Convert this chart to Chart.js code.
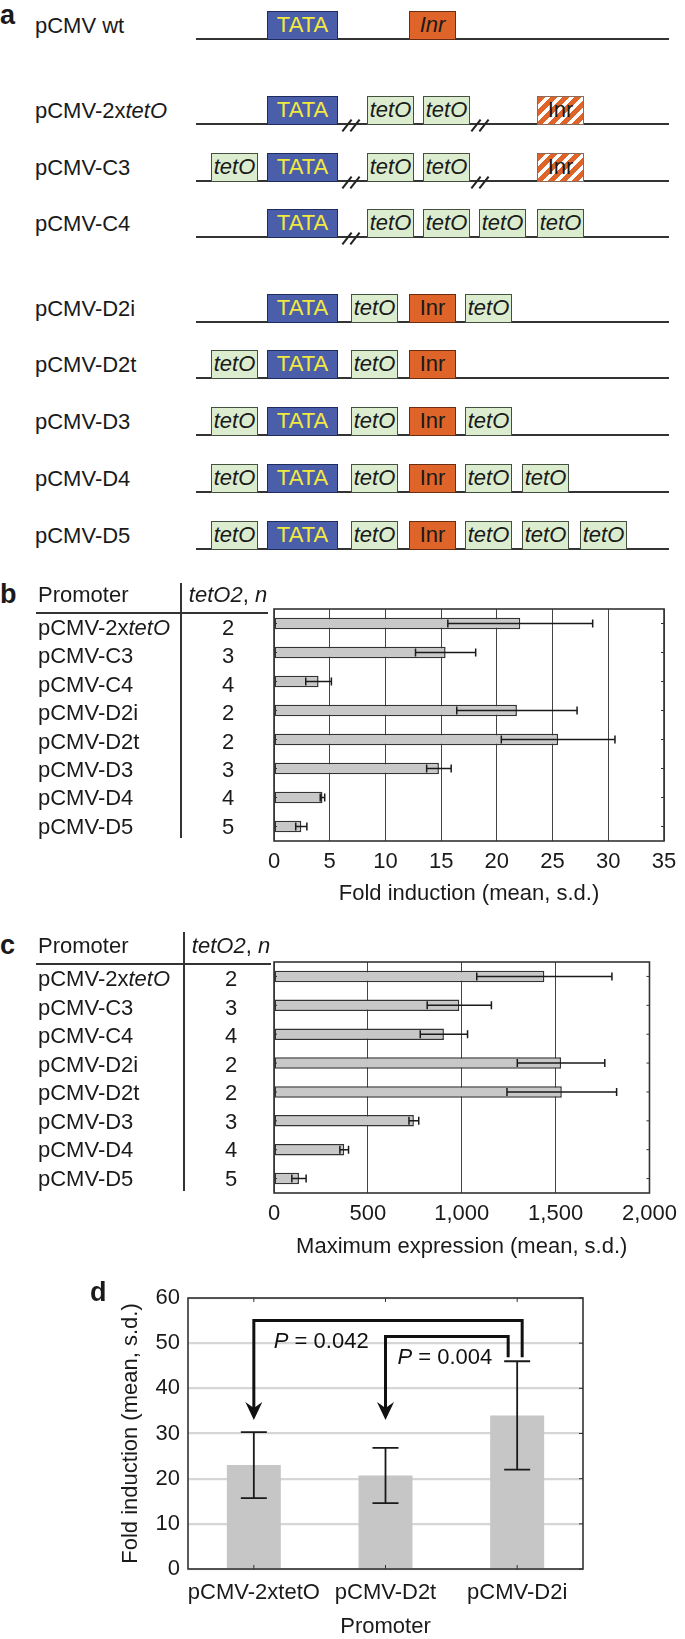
<!DOCTYPE html>
<html>
<head>
<meta charset="utf-8">
<title>tetO promoter variants</title>
<script src="https://cdn.jsdelivr.net/npm/chart.js@4.4.1/dist/chart.umd.min.js"></script>
<style>
  body { margin: 0; width: 685px; height: 1639px; position: relative; overflow: hidden; background: #fff;
         font-family: "Liberation Sans", Arial, Helvetica, sans-serif; color: #1a1a1a; }
  .txt { position: absolute; white-space: nowrap; font-size: 22px; line-height: 26px; height: 26px; }
  .panel { font-weight: bold; font-size: 27px; }
  .dna { position: absolute; height: 2px; background: #333; }
  .box { position: absolute; box-sizing: border-box; height: 29px; font-size: 22px; line-height: 26px;
         text-align: center; border: 1.5px solid #333; overflow: hidden; }
  .tata { background: #4a5ea9; border-color: #1f2b5c; color: #f3e93e; }
  .teto { background: #dcedcf; border-color: #44503f; font-style: italic; }
  .inr { background: #df6429; border-color: #6b2d12; }
  .inrI { background: #df6429; border-color: #6b2d12; font-style: italic; }
  .inrH { background: repeating-linear-gradient(135deg, #df6429 0 5px, #fff 5px 8.5px); border-color: #8a6a5a; }
  .slash { position: absolute; width: 1.8px; height: 15px; background: #222; transform: rotate(38deg); }
  .rule { position: absolute; background: #333; }
  canvas { position: absolute; }
</style>
</head>
<body>
<canvas id="chartB" width="435" height="330" style="left:250px;top:590px"></canvas>
<canvas id="chartC" width="435" height="330" style="left:250px;top:940px"></canvas>
<canvas id="chartD" width="500" height="370" style="left:100px;top:1270px"></canvas>
<script>
'use strict'

// ---- data ----
let promoters = ['pCMV-2xtetO', 'pCMV-C3', 'pCMV-C4', 'pCMV-D2i',
    'pCMV-D2t', 'pCMV-D3', 'pCMV-D4', 'pCMV-D5'];
let tetoCopies = [2, 3, 4, 2, 2, 3, 4, 5];

let foldMean = [22.1, 15.4, 4.0, 21.8, 25.5, 14.8, 4.35, 2.45];
let foldSd = [6.5, 2.7, 1.15, 5.4, 5.1, 1.1, 0.2, 0.5];
let foldTicks = [0, 5, 10, 15, 20, 25, 30, 35];

let exprMean = [1440, 987, 905, 1529, 1533, 745, 374, 133];
let exprSd = [360, 171, 126, 233, 292, 26, 23, 38];
let exprTicks = [0, 500, 1000, 1500, 2000];

let dNames = ['pCMV-2xtetO', 'pCMV-D2t', 'pCMV-D2i'];
let dMean = [23.0, 20.7, 34.0];
let dSd = [7.3, 6.1, 12.0];
let dTicks = [0, 10, 20, 30, 40, 50, 60];
let pValues = ['0.042', '0.004'];
let pFrom = [2, 2];
let pTo = [0, 1];

// panel a constructs: [element, slot]
let constructs = [
    ['pCMV wt', [['TATA', 'tata'], ['InrI', 'inr']]],
    ['pCMV-2xtetO', [['TATA', 'tata'], ['//', 'br1'], ['tetO', 'c1'], ['tetO', 'c2'], ['//', 'br2'], ['InrH', 'c4']]],
    ['pCMV-C3', [['tetO', 'up'], ['TATA', 'tata'], ['//', 'br1'], ['tetO', 'c1'], ['tetO', 'c2'], ['//', 'br2'], ['InrH', 'c4']]],
    ['pCMV-C4', [['TATA', 'tata'], ['//', 'br1'], ['tetO', 'c1'], ['tetO', 'c2'], ['tetO', 'c3'], ['tetO', 'c4']]],
    ['pCMV-D2i', [['TATA', 'tata'], ['tetO', 'd1'], ['Inr', 'inr'], ['tetO', 'd2']]],
    ['pCMV-D2t', [['tetO', 'up'], ['TATA', 'tata'], ['tetO', 'd1'], ['Inr', 'inr']]],
    ['pCMV-D3', [['tetO', 'up'], ['TATA', 'tata'], ['tetO', 'd1'], ['Inr', 'inr'], ['tetO', 'd2']]],
    ['pCMV-D4', [['tetO', 'up'], ['TATA', 'tata'], ['tetO', 'd1'], ['Inr', 'inr'], ['tetO', 'd2'], ['tetO', 'd3']]],
    ['pCMV-D5', [['tetO', 'up'], ['TATA', 'tata'], ['tetO', 'd1'], ['Inr', 'inr'], ['tetO', 'd2'], ['tetO', 'd3'], ['tetO', 'd4']]]
];

// ---- layout helpers ----
let slotX = { up: 211, tata: 267, br1: 350, c1: 367, c2: 423, br2: 479, c3: 479, c4: 537,
    d1: 351, inr: 409, d2: 465, d3: 522, d4: 580 };
let rowLine = [39, 124, 181, 237, 322, 378, 435, 492, 549];

function addText(html, x, cy, cls, center) {
    let d = document.createElement('div');
    d.className = 'txt ' + (cls || '');
    d.innerHTML = html;
    d.style.top = (cy - 13) + 'px';
    if (center) {
        d.style.left = (x - 100) + 'px';
        d.style.width = '200px';
        d.style.textAlign = 'center';
    } else {
        d.style.left = x + 'px';
    }
    document.body.appendChild(d);
}

function addRule(x, y, w, h) {
    let d = document.createElement('div');
    d.className = 'rule';
    d.style.left = x + 'px';
    d.style.top = y + 'px';
    d.style.width = w + 'px';
    d.style.height = h + 'px';
    document.body.appendChild(d);
}

function italicTet(name) {
    return name.replace('tetO', '<i>tetO</i>');
}

// ---- panel a ----
addText('a', 0, 15, 'panel');
for (let i = 0; i < constructs.length; i++) {
    let y = rowLine[i];
    addText(italicTet(constructs[i][0]), 35, y - 13);
    let line = document.createElement('div');
    line.className = 'dna';
    line.style.left = '196px';
    line.style.width = '473px';
    line.style.top = (y - 1) + 'px';
    document.body.appendChild(line);

    constructs[i][1].forEach(function (part) {
        let kind = part[0];
        let x = slotX[part[1]];
        if (kind === '//') {
            [-4, 4].forEach(function (dx) {
                let s = document.createElement('div');
                s.className = 'slash';
                s.style.left = (x + dx) + 'px';
                s.style.top = (y - 6) + 'px';
                document.body.appendChild(s);
            });
            return;
        }
        let b = document.createElement('div');
        let cls = { TATA: 'tata', tetO: 'teto', Inr: 'inr', InrI: 'inrI', InrH: 'inrH' }[kind];
        b.className = 'box ' + cls;
        b.textContent = kind === 'TATA' ? 'TATA' : (kind === 'tetO' ? 'tetO' : 'Inr');
        b.style.left = x + 'px';
        b.style.width = (kind === 'TATA' ? 71 : 47) + 'px';
        b.style.top = (y - 28) + 'px';
        document.body.appendChild(b);
    });
}

// ---- tables for b and c ----
function drawTable(letter, headY, ruleY, sepX, sepTop, sepBottom, rowY, rowStep, ruleEnd) {
    addText(letter, 0, headY - 1, 'panel');
    addText('Promoter', 38, headY);
    addText('<i>tetO2</i>, <i>n</i>', sepX + 48, headY, '', true);
    addRule(36, ruleY, ruleEnd - 36, 1.5);
    addRule(sepX, sepTop, 1.5, sepBottom - sepTop);
    for (let i = 0; i < promoters.length; i++) {
        addText(italicTet(promoters[i]), 38, rowY + rowStep * i);
        addText(String(tetoCopies[i]), sepX + 48, rowY + rowStep * i, '', true);
    }
}
drawTable('b', 595, 612, 180, 583, 838, 628, 28.4, 268);
drawTable('c', 946, 963, 183, 932, 1191, 979, 28.5, 271);
addText('d', 90, 1292, 'panel');

// ---- Chart.js plugins ----
let errorBars = {
    id: 'errorBars',
    afterDatasetsDraw(chart, args, opts) {
        let ctx = chart.ctx;
        let horiz = chart.options.indexAxis === 'y';
        let vScale = horiz ? chart.scales.x : chart.scales.y;
        let data = chart.data.datasets[0].data;
        ctx.save();
        ctx.strokeStyle = '#1a1a1a';
        ctx.lineWidth = opts.width;
        chart.getDatasetMeta(0).data.forEach(function (bar, i) {
            let lo = vScale.getPixelForValue(data[i] - opts.sd[i]);
            let hi = vScale.getPixelForValue(data[i] + opts.sd[i]);
            let c = horiz ? bar.y : bar.x;
            let h = opts.cap / 2;
            ctx.beginPath();
            if (horiz) {
                ctx.moveTo(lo, c); ctx.lineTo(hi, c);
                ctx.moveTo(lo, c - h); ctx.lineTo(lo, c + h);
                ctx.moveTo(hi, c - h); ctx.lineTo(hi, c + h);
            } else {
                ctx.moveTo(c, lo); ctx.lineTo(c, hi);
                ctx.moveTo(c - h, lo); ctx.lineTo(c + h, lo);
                ctx.moveTo(c - h, hi); ctx.lineTo(c + h, hi);
            }
            ctx.stroke();
        });
        ctx.restore();
    }
};

let frame = {
    id: 'frame',
    afterDatasetsDraw(chart) {
        let ctx = chart.ctx;
        let a = chart.chartArea;
        ctx.save();
        ctx.strokeStyle = '#333';
        ctx.lineWidth = 1;
        ctx.beginPath();
        if (chart.options.indexAxis === 'y') {
            let cat = chart.scales.y;
            for (let i = 0; i < chart.data.labels.length; i++) {
                let y = cat.getPixelForValue(i);
                ctx.moveTo(a.left, y); ctx.lineTo(a.left + 3, y);
                ctx.moveTo(a.right - 3, y); ctx.lineTo(a.right, y);
            }
        } else {
            let cat = chart.scales.x;
            for (let i = 0; i < chart.data.labels.length; i++) {
                let x = cat.getPixelForValue(i);
                ctx.moveTo(x, a.top); ctx.lineTo(x, a.top + 4);
                ctx.moveTo(x, a.bottom); ctx.lineTo(x, a.bottom - 4);
            }
            chart.scales.y.ticks.forEach(function (t) {
                let y = chart.scales.y.getPixelForValue(t.value);
                ctx.moveTo(a.right, y); ctx.lineTo(a.right - 4, y);
            });
        }
        ctx.stroke();
        ctx.lineWidth = 1.6;
        ctx.strokeRect(a.left, a.top, a.right - a.left, a.bottom - a.top);
        ctx.restore();
    }
};

let brackets = {
    id: 'brackets',
    afterDatasetsDraw(chart) {
        let ctx = chart.ctx;
        let xs = chart.scales.x, ys = chart.scales.y;
        let topVal = [55, 51.5];
        let endVal = [46.9, 46.9];
        let endDx = [5, -9];
        let tipVal = 33;
        let textDx = [20, 12];
        let textVal = [50.2, 46.7];
        ctx.save();
        ctx.strokeStyle = '#111';
        ctx.fillStyle = '#111';
        ctx.lineWidth = 3;
        ctx.lineJoin = 'miter';
        for (let i = 0; i < pValues.length; i++) {
            let xEnd = xs.getPixelForValue(pFrom[i]) + endDx[i];
            let xTip = xs.getPixelForValue(pTo[i]);
            let yTop = ys.getPixelForValue(topVal[i]);
            let yTip = ys.getPixelForValue(tipVal);
            ctx.beginPath();
            ctx.moveTo(xEnd, ys.getPixelForValue(endVal[i]));
            ctx.lineTo(xEnd, yTop);
            ctx.lineTo(xTip, yTop);
            ctx.lineTo(xTip, yTip - 10);
            ctx.stroke();
            ctx.beginPath();
            ctx.moveTo(xTip, yTip);
            ctx.lineTo(xTip - 8.5, yTip - 18);
            ctx.lineTo(xTip, yTip - 12);
            ctx.lineTo(xTip + 8.5, yTip - 18);
            ctx.closePath();
            ctx.fill();

            let tx = xTip + textDx[i];
            let ty = ys.getPixelForValue(textVal[i]);
            ctx.textBaseline = 'middle';
            ctx.font = 'italic 22px "Liberation Sans", Arial, sans-serif';
            ctx.fillText('P', tx, ty);
            let w = ctx.measureText('P').width;
            ctx.font = '22px "Liberation Sans", Arial, sans-serif';
            ctx.fillText(' = ' + pValues[i], tx + w, ty);
        }
        ctx.restore();
    }
};

Chart.defaults.font.family = '"Liberation Sans", Arial, sans-serif';
Chart.defaults.font.size = 22;
Chart.defaults.color = '#1a1a1a';

function hBarChart(id, labels, mean, sd, ticks, title, pad, axisH, titlePad) {
    return new Chart(document.getElementById(id), {
        type: 'bar',
        data: {
            labels: labels,
            datasets: [{
                data: mean,
                backgroundColor: '#c8c8c8',
                borderColor: '#333',
                borderWidth: 1.5,
                borderSkipped: false,
                barPercentage: 0.4,
                categoryPercentage: 1
            }]
        },
        options: {
            indexAxis: 'y',
            responsive: false,
            animation: false,
            devicePixelRatio: 1,
            layout: { padding: pad },
            scales: {
                x: {
                    min: ticks[0],
                    max: ticks[ticks.length - 1],
                    ticks: { stepSize: ticks[1] - ticks[0], padding: 8, color: '#1a1a1a' },
                    grid: { color: '#444', lineWidth: 1, drawTicks: false },
                    border: { display: false },
                    title: { display: true, text: title, color: '#1a1a1a', padding: { top: 0, bottom: titlePad } },
                    afterFit: function (s) { s.height = axisH; }
                },
                y: { display: false }
            },
            plugins: {
                legend: { display: false },
                tooltip: { enabled: false },
                errorBars: { sd: sd, cap: 8, width: 1.5 }
            }
        },
        plugins: [errorBars, frame]
    });
}

hBarChart('chartB', promoters, foldMean, foldSd, foldTicks, 'Fold induction (mean, s.d.)',
    { left: 24, right: 21, top: 19, bottom: 0 }, 79, 13);
hBarChart('chartC', promoters, exprMean, exprSd, exprTicks, 'Maximum expression (mean, s.d.)',
    { left: 24, right: 30, top: 22, bottom: 0 }, 77, 10);

new Chart(document.getElementById('chartD'), {
    type: 'bar',
    data: {
        labels: dNames,
        datasets: [{
            data: dMean,
            backgroundColor: '#c6c6c6',
            borderWidth: 0,
            barPercentage: 0.41,
            categoryPercentage: 1
        }]
    },
    options: {
        responsive: false,
        animation: false,
        devicePixelRatio: 1,
        layout: { padding: { left: 0, right: 17, top: 28, bottom: 0 } },
        scales: {
            x: {
                ticks: { padding: 11, maxRotation: 0, minRotation: 0, autoSkip: false, color: '#1a1a1a' },
                grid: { display: false, drawTicks: false },
                border: { display: false },
                title: { display: true, text: 'Promoter', color: '#1a1a1a', padding: { top: 0, bottom: 0 } },
                afterFit: function (s) { s.height = 71; }
            },
            y: {
                min: dTicks[0],
                max: dTicks[dTicks.length - 1],
                ticks: { stepSize: dTicks[1] - dTicks[0], padding: 8, color: '#1a1a1a' },
                grid: { color: '#d6d6d6', lineWidth: 2.2, drawTicks: false },
                border: { display: false },
                title: { display: true, text: 'Fold induction (mean, s.d.)', color: '#1a1a1a', padding: { top: 18, bottom: 0 } },
                afterFit: function (s) { s.width = 88; }
            }
        },
        plugins: {
            legend: { display: false },
            tooltip: { enabled: false },
            errorBars: { sd: dSd, cap: 26, width: 1.8 }
        }
    },
    plugins: [errorBars, frame, brackets]
});
</script>
</body>
</html>
